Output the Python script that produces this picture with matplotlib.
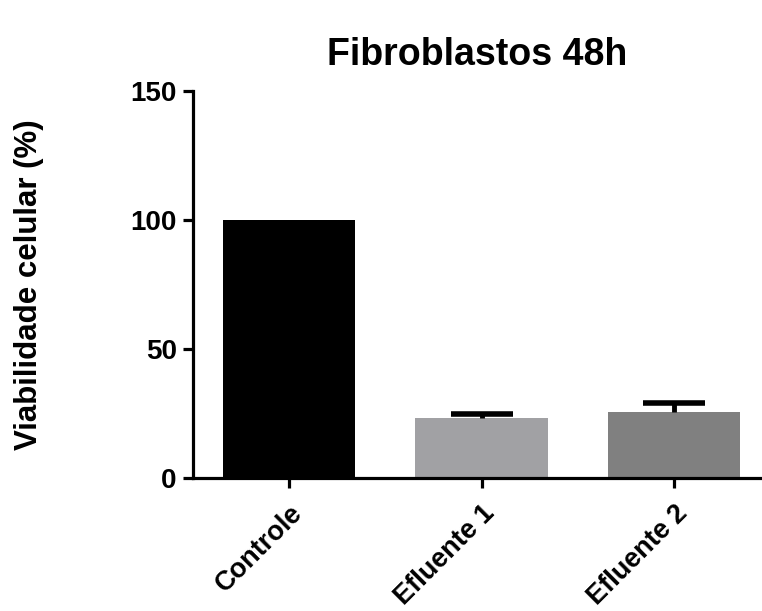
import matplotlib
matplotlib.use('Agg')
import matplotlib.pyplot as plt
import numpy as np

plt.rcParams['font.family'] = ['Liberation Sans', 'DejaVu Sans']
plt.rcParams['font.weight'] = 'bold'

# data
groups = ['Controle', 'Efluente 1', 'Efluente 2']
viability = [100.0, 23.3, 25.6]
sd_upper = [0.0, 1.3, 3.5]
bar_colors = ['#000000', '#a1a1a4', '#808080']

fig = plt.figure(figsize=(7.62, 6.11), dpi=100)
ax = fig.add_axes([0.2537, 0.2182, 0.7463, 0.6325])

x = np.arange(len(groups))
ax.bar(x, viability, width=0.686, color=bar_colors, zorder=1)

# error bars only where there is a spread (control is the 100% reference)
has_err = np.array(sd_upper) > 0
x_err = x[has_err]
y_err = np.array(viability)[has_err]
up_err = np.array(sd_upper)[has_err]
eb = ax.errorbar(x_err, y_err, yerr=[np.zeros(len(x_err)), up_err],
                 fmt='none', ecolor='black', elinewidth=3.5, capsize=22,
                 capthick=4, zorder=2)
# only the upper half of the error bar, as in Prism
eb.lines[1][0].set_visible(False)

ax.set_xlim(-0.497, 2.457)
ax.set_ylim(0, 150)
ax.set_yticks([0, 50, 100, 150])
ax.set_xticks(x)
ax.set_xticklabels(groups, rotation=45, ha='right', va='top',
                   rotation_mode='anchor', fontsize=19.5, fontweight='bold')
for lbl in ax.get_yticklabels():
    lbl.set_fontsize(20)
    lbl.set_fontweight('bold')

for side in ['top', 'right']:
    ax.spines[side].set_visible(False)
for side in ['left', 'bottom']:
    ax.spines[side].set_linewidth(2.3)
ax.tick_params(axis='both', length=7, width=2.3, color='black')
ax.tick_params(axis='y', pad=5)
ax.tick_params(axis='x', pad=9)

ax.set_ylabel('Viabilidade celular (%)', fontsize=22.5, fontweight='bold')
ax.yaxis.set_label_coords(-0.262, 0.5)
ax.set_title('Fibroblastos 48h', fontsize=27, fontweight='bold', pad=19)

fig.savefig('out.png', dpi=100)
plt.close()
